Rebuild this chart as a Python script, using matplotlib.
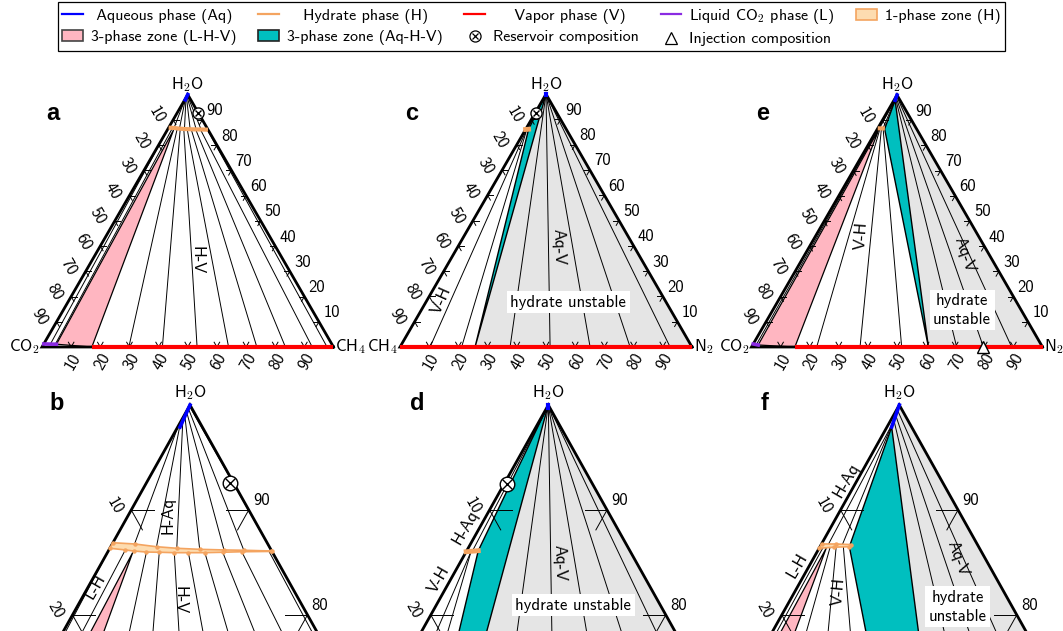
import numpy as np
import matplotlib
matplotlib.use("Agg")
import matplotlib.pyplot as plt
from matplotlib.lines import Line2D
from matplotlib.patches import Polygon, Patch
from matplotlib.transforms import offset_copy

plt.rcParams['font.family'] = ['cmss10', 'DejaVu Sans']
plt.rcParams['mathtext.fontset'] = 'cm'
plt.rcParams['font.size'] = 12
plt.rcParams['axes.unicode_minus'] = False

# ---------------- data (ternary: t = H2O fraction, r = right-vertex fraction) ----------
TICK_VALUES = [10, 20, 30, 40, 50, 60, 70, 80, 90]

# System 1: CO2 (left) - CH4 (right) - H2O (top)   [panels a, b]
S1_AQ_T = [1.000, 0.979]
S1_AQ_R = [0.000, 0.002]
S1_L_T = [0.012, 0.011]
S1_L_R = [0.000, 0.044]
S1_HUP_T = [0.8688, 0.8676, 0.8650, 0.8635, 0.8625, 0.8619, 0.8616, 0.8609]
S1_HUP_R = [0.000, 0.019, 0.039, 0.057, 0.077, 0.098, 0.115, 0.139]
S1_HLO_T = [0.8635, 0.8619, 0.8609, 0.8599, 0.8597, 0.8593, 0.8593, 0.8593, 0.8597, 0.8602, 0.8605]
S1_HLO_R = [0.000, 0.014, 0.0215, 0.033, 0.044, 0.057, 0.069, 0.083, 0.098, 0.114, 0.139]
S1_V_R = [0.171, 1.0]
S1_LHV_T = [0.011, 0.8595, 0.0]
S1_LHV_R = [0.044, 0.0215, 0.171]
S1_HV_H_T = [0.8599, 0.8597, 0.8593, 0.8593, 0.8593, 0.8597, 0.8602, 0.8605]
S1_HV_H_R = [0.033, 0.044, 0.057, 0.069, 0.083, 0.098, 0.114, 0.137]
S1_HV_V_R = [0.298, 0.413, 0.532, 0.640, 0.737, 0.835, 0.927, 0.978]
S1_AQH_AQ_T = [0.980, 0.984, 0.988, 0.991, 0.994, 0.997, 0.999]
S1_AQH_H_T = [0.8676, 0.8650, 0.8635, 0.8625, 0.8619, 0.8616, 0.8609]
S1_AQH_H_R = [0.019, 0.039, 0.057, 0.077, 0.098, 0.115, 0.139]
S1_LH_L_R = [0.023, 0.040]
S1_LH_H_T = [0.8635, 0.8619]
S1_LH_H_R = [0.000, 0.014]
S1_RES = (0.926, 0.071)

# System 2: CH4 (left) - N2 (right) - H2O (top)   [panels c, d]
S2_AQ_T = [1.000, 0.997]
S2_AQ_R = [0.000, 0.0015]
S2_H_T = [0.8602, 0.8612]
S2_H_R = [0.000, 0.0098]
S2_V_R = [0.0, 1.0]
S2_AQHV_T = [1.0, 0.8612, 0.0]
S2_AQHV_R = [0.0, 0.0098, 0.257]
S2_GREY_T = [1.0, 0.0, 0.0]
S2_GREY_R = [0.0, 0.257, 1.0]
S2_AQV_V_R = [0.377, 0.514, 0.651, 0.788, 0.925]
S2_VH_H = (0.8606, 0.004)
S2_VH_V_R = [0.103, 0.211]
S2_HAQ_T = [0.998, 0.8607]
S2_HAQ_R = [0.0005, 0.005]
S2_RES = (0.925, 0.002)

# System 3: CO2 (left) - N2 (right) - H2O (top)   [panels e, f]
S3_AQ_T = [1.000, 0.979]
S3_AQ_R = [0.000, 0.004]
S3_L_T = [0.012, 0.008]
S3_L_R = [0.000, 0.019]
S3_HUP_T = [0.8676, 0.8676, 0.8670]
S3_HUP_R = [0.000, 0.012, 0.025]
S3_HLO_T = [0.8635, 0.8645, 0.8650]
S3_HLO_R = [0.000, 0.012, 0.025]
S3_V_R = [0.149, 1.0]
S3_LHV_T = [0.008, 0.8638, 0.0]
S3_LHV_R = [0.019, 0.006, 0.149]
S3_AQHV_T = [0.979, 0.8650, 0.0]
S3_AQHV_R = [0.004, 0.025, 0.608]
S3_GREY_T = [1.0, 0.979, 0.0, 0.0]
S3_GREY_R = [0.0, 0.004, 0.608, 1.0]
S3_VH_H_T = [0.8640, 0.8645, 0.8648]
S3_VH_H_R = [0.009, 0.014, 0.020]
S3_VH_V_R = [0.224, 0.373, 0.516]
S3_AQV_AQ_T = [0.985, 0.990, 0.995]
S3_AQV_AQ_R = [0.003, 0.002, 0.001]
S3_AQV_V_R = [0.705, 0.797, 0.894]
S3_AQH_AQ_T = [0.983, 0.989]
S3_AQH_AQ_R = [0.003, 0.002]
S3_AQH_H_T = [0.8676, 0.8674]
S3_AQH_H_R = [0.006, 0.018]
S3_LH_T = [0.010, 0.8637]
S3_LH_R = [0.012, 0.003]
S3_INJ = (0.0, 0.797)

# region labels: (text, t, r, rotation, boxed)
LAB_A = [('H-V', 0.345, 0.358, -90, False)]
LAB_B = [('H-Aq', 0.8952, 0.034, 90, False), ('H-V', 0.8142, 0.084, -90, False),
         ('L-H', 0.8269, 0.006, 60, False)]
LAB_C = [('Aq-V', 0.397, 0.344, -88, False), ('V-H', 0.186, 0.050, 66, False),
         ('hydrate unstable', 0.177, 0.488, 0, True)]
LAB_D = [('Aq-V', 0.8492, 0.085, -88, False), ('H-Aq', 0.884, -0.013, 60, False),
         ('V-H', 0.8333, -0.010, 60, False), ('hydrate unstable', 0.8094, 0.1166, 0, True)]
LAB_E = [('V-H', 0.444, 0.157, 86, False), ('Aq-V', 0.365, 0.551, -71, False),
         ('hydrate\nunstable', 0.147, 0.650, 0, True)]
LAB_F = [('H-Aq', 0.9285, -0.009, 60, False), ('L-H', 0.8476, -0.011, 60, False),
         ('V-H', 0.8221, 0.037, 85, False), ('Aq-V', 0.8539, 0.123, -70, False),
         ('hydrate\nunstable', 0.8078, 0.146, 0, True)]

# colours
C_AQ = '#0000ff'
C_H = '#f4a460'
C_HFILL = '#fddcb0'
C_V = '#ff0000'
C_L = '#8a2be2'
C_PINK = '#ffb6c1'
C_TEAL = '#00bfbf'
C_GREY = '#e5e5e5'

W, H = 1063, 631
fig = plt.figure(figsize=(W / 100, H / 100), dpi=100)
SQ = np.sqrt(3) / 2


def xy(t, r):
    t = np.atleast_1d(np.asarray(t, float))
    r = np.atleast_1d(np.asarray(r, float))
    return r + t / 2.0, t * SQ


def make_ax(rect, X0, Yb, Sx, Sy):
    L, T, R, B = rect
    ax = fig.add_axes([L / W, 1 - B / H, (R - L) / W, (B - T) / H])
    ax.set_xlim((L - X0) / Sx, (R - X0) / Sx)
    ax.set_ylim((Yb - B) / Sy, (Yb - T) / Sy)
    ax.axis('off')
    return ax


def line(ax, t, r, **kw):
    x, y = xy(t, r)
    ax.plot(x, y, **kw)


def poly(ax, t, r, **kw):
    x, y = xy(t, r)
    ax.add_patch(Polygon(np.column_stack([x, y]), closed=True, **kw))


def tie(ax, t1, r1, t2, r2):
    for a, b, c, d in zip(t1, r1, t2, r2):
        line(ax, [a, c], [b, d], color='k', lw=0.7, zorder=3)


def frame(ax, lname, rname, tmin, zoom):
    line(ax, [0, 1, 0, 0], [1, 0, 0, 1], color='k', lw=2, zorder=4,
         solid_joinstyle='miter')
    Lt = 0.019
    for v in TICK_VALUES:
        f = v / 100.0
        # left edge
        x0, y0 = xy(1 - f, 0)
        ax.plot([x0[0], x0[0] + Lt], [y0[0], y0[0]], color='k', lw=0.7, zorder=3)
        ax.plot([x0[0], x0[0] + Lt * 0.5], [y0[0], y0[0] - Lt * SQ], color='k', lw=0.7, zorder=3)
        if 1 - f >= tmin:
            ax.text(x0[0], y0[0], str(v), rotation=-60, ha='center', va='center',
                    rotation_mode='anchor',
                    transform=offset_copy(ax.transData, fig, x=-17, y=4.5, units='dots'))
        # right edge
        x0, y0 = xy(f, 1 - f)
        ax.plot([x0[0], x0[0] - Lt], [y0[0], y0[0]], color='k', lw=0.7, zorder=3)
        ax.plot([x0[0], x0[0] - Lt * 0.5], [y0[0], y0[0] - Lt * SQ], color='k', lw=0.7, zorder=3)
        if f >= tmin:
            ax.text(x0[0], y0[0], str(v), ha='center', va='center',
                    transform=offset_copy(ax.transData, fig, x=12.5, y=9, units='dots'))
        # bottom edge
        x0, y0 = xy(0, f)
        ax.plot([x0[0], x0[0] + Lt * 0.5], [y0[0], y0[0] + Lt * SQ], color='k', lw=0.7, zorder=3)
        ax.plot([x0[0], x0[0] - Lt * 0.5], [y0[0], y0[0] + Lt * SQ], color='k', lw=0.7, zorder=3)
        if tmin <= 0:
            ax.text(x0[0], y0[0], str(v), rotation=60, ha='center', va='center',
                    rotation_mode='anchor',
                    transform=offset_copy(ax.transData, fig, x=2, y=-15, units='dots'))
    xa, ya = xy(1, 0)
    ax.text(xa[0], ya[0], 'H$_2$O', ha='center', va='center',
            transform=offset_copy(ax.transData, fig, x=0, y=12 if zoom else 10, units='dots'))
    if not zoom:
        xl, yl = xy(0, 0)
        ax.text(xl[0], yl[0], lname, ha='right', va='center',
                transform=offset_copy(ax.transData, fig, x=-2, y=0, units='dots'))
        xr, yr = xy(0, 1)
        ax.text(xr[0], yr[0], rname, ha='left', va='center',
                transform=offset_copy(ax.transData, fig, x=2, y=0, units='dots'))


def labels(ax, labs):
    for txt, t, r, rot, boxed in labs:
        x, y = xy(t, r)
        kw = dict(rotation=rot, ha='center', va='center', rotation_mode='anchor', zorder=9)
        if boxed:
            kw['bbox'] = dict(facecolor='white', edgecolor='none', pad=2.5)
            kw['linespacing'] = 1.3
        ax.text(x[0], y[0], txt, **kw)


def reservoir(ax, pt, ms):
    x, y = xy(*pt)
    ax.plot(x, y, marker='o', ms=ms, mfc='white', mec='k', mew=1.0, zorder=8)
    ax.plot(x, y, marker='x', ms=ms * 0.62, color='k', mew=1.0, zorder=9)


def hyd_band(ax, tu, ru, tl, rl, zoom):
    if zoom:
        t = list(tu) + list(tl)[::-1]
        r = list(ru) + list(rl)[::-1]
        poly(ax, t, r, facecolor=C_HFILL, edgecolor=C_H, lw=1.2, zorder=6)
        line(ax, tu, ru, ls='none', marker='o', ms=2.2, color=C_H, zorder=6)
        line(ax, tl, rl, ls='none', marker='o', ms=2.2, color=C_H, zorder=6)
    else:
        line(ax, tu, ru, color=C_H, lw=3, zorder=6, solid_capstyle='butt')


def system1(ax, zoom):
    poly(ax, S1_LHV_T, S1_LHV_R, facecolor=C_PINK, edgecolor='k', lw=0.9, zorder=2)
    tie(ax, S1_HV_H_T, S1_HV_H_R, [0] * len(S1_HV_V_R), S1_HV_V_R)
    tie(ax, S1_AQH_AQ_T, [0.0] * len(S1_AQH_AQ_T), S1_AQH_H_T, S1_AQH_H_R)
    tie(ax, [S1_L_T[0]] * 2, S1_LH_L_R, S1_LH_H_T, S1_LH_H_R)
    frame(ax, 'CO$_2$', 'CH$_4$', 0.75 if zoom else 0, zoom)
    line(ax, [0, 0], S1_V_R, color=C_V, lw=3, zorder=5, solid_capstyle='butt')
    line(ax, S1_AQ_T, S1_AQ_R, color=C_AQ, lw=2.6, zorder=5)
    line(ax, S1_L_T, S1_L_R, color=C_L, lw=2.6, zorder=5)
    hyd_band(ax, S1_HUP_T, S1_HUP_R, S1_HLO_T, S1_HLO_R, zoom)
    reservoir(ax, S1_RES, 10.5 if zoom else 8)


def system2(ax, zoom):
    poly(ax, S2_GREY_T, S2_GREY_R, facecolor=C_GREY, edgecolor='none', zorder=1)
    poly(ax, S2_AQHV_T, S2_AQHV_R, facecolor=C_TEAL, edgecolor='k', lw=1.0, zorder=2)
    tie(ax, [1.0] * len(S2_AQV_V_R), [0.0] * len(S2_AQV_V_R), [0] * len(S2_AQV_V_R), S2_AQV_V_R)
    tie(ax, [S2_VH_H[0]] * 2, [S2_VH_H[1]] * 2, [0, 0], S2_VH_V_R)
    tie(ax, [S2_HAQ_T[0]], [S2_HAQ_R[0]], [S2_HAQ_T[1]], [S2_HAQ_R[1]])
    frame(ax, 'CH$_4$', 'N$_2$', 0.75 if zoom else 0, zoom)
    line(ax, [0, 0], S2_V_R, color=C_V, lw=3, zorder=5, solid_capstyle='butt')
    line(ax, S2_AQ_T, S2_AQ_R, color=C_AQ, lw=3, zorder=5)
    line(ax, S2_H_T, S2_H_R, color=C_H, lw=3.5, zorder=6)
    reservoir(ax, S2_RES, 10.5 if zoom else 8)


def system3(ax, zoom):
    poly(ax, S3_GREY_T, S3_GREY_R, facecolor=C_GREY, edgecolor='none', zorder=1)
    poly(ax, S3_AQHV_T, S3_AQHV_R, facecolor=C_TEAL, edgecolor='k', lw=1.0, zorder=2)
    poly(ax, S3_LHV_T, S3_LHV_R, facecolor=C_PINK, edgecolor='k', lw=0.9, zorder=2)
    tie(ax, S3_VH_H_T, S3_VH_H_R, [0] * 3, S3_VH_V_R)
    tie(ax, S3_AQV_AQ_T, S3_AQV_AQ_R, [0] * 3, S3_AQV_V_R)
    tie(ax, S3_AQH_AQ_T, S3_AQH_AQ_R, S3_AQH_H_T, S3_AQH_H_R)
    tie(ax, [S3_LH_T[0]], [S3_LH_R[0]], [S3_LH_T[1]], [S3_LH_R[1]])
    frame(ax, 'CO$_2$', 'N$_2$', 0.75 if zoom else 0, zoom)
    line(ax, [0, 0], S3_V_R, color=C_V, lw=3, zorder=5, solid_capstyle='butt')
    line(ax, S3_AQ_T, S3_AQ_R, color=C_AQ, lw=2.6, zorder=5)
    line(ax, S3_L_T, S3_L_R, color=C_L, lw=2.6, zorder=5)
    hyd_band(ax, S3_HUP_T, S3_HUP_R, S3_HLO_T, S3_HLO_R, zoom)
    x, y = xy(*S3_INJ)
    ax.plot(x, y, marker='^', ms=10.5 if zoom else 9, mfc='white', mec='k', mew=1.0,
            zorder=8, clip_on=False)


# ---- panels ----
BOT_SX, BOT_SY = 1175.0, 1212.0
ax_a = make_ax((0, 60, 355, 372), 42.0, 347.0, 291.5, 291.5)
ax_c = make_ax((355, 60, 708, 372), 400.0, 347.0, 292.0, 292.0)
ax_e = make_ax((708, 60, 1063, 372), 751.5, 347.0, 291.0, 291.0)
yb_bot = 405.0 + BOT_SY * SQ
ax_b = make_ax((0, 372, 355, 631), 190.0 - BOT_SX / 2, yb_bot, BOT_SX, BOT_SY)
ax_d = make_ax((355, 372, 708, 631), 548.3 - BOT_SX / 2, yb_bot, BOT_SX, BOT_SY)
ax_f = make_ax((708, 372, 1063, 631), 899.3 - BOT_SX / 2, yb_bot, BOT_SX, BOT_SY)

system1(ax_a, False); labels(ax_a, LAB_A)
system1(ax_b, True); labels(ax_b, LAB_B)
system2(ax_c, False); labels(ax_c, LAB_C)
system2(ax_d, True); labels(ax_d, LAB_D)
system3(ax_e, False); labels(ax_e, LAB_E)
system3(ax_f, True); labels(ax_f, LAB_F)

for letter, px, py in [('a', 53, 113), ('c', 412, 113), ('e', 763, 113),
                       ('b', 57, 403), ('d', 417, 403), ('f', 765, 403)]:
    fig.text(px / W, 1 - py / H, letter, fontsize=17, fontweight='bold',
             family='Liberation Sans', ha='center', va='center')

# ---- legend ----
h_aq = Line2D([], [], color=C_AQ, lw=1.6)
h_h = Line2D([], [], color=C_H, lw=1.6)
h_v = Line2D([], [], color=C_V, lw=1.6)
h_l = Line2D([], [], color=C_L, lw=1.6)
h_1p = Patch(facecolor=C_HFILL, edgecolor=C_H, lw=1.2)
h_lhv = Patch(facecolor=C_PINK, edgecolor='#444444', lw=1.2)
h_aqhv = Patch(facecolor=C_TEAL, edgecolor='#222222', lw=1.2)
h_res = (Line2D([], [], ls='none', marker='o', ms=8, mfc='white', mec='k', mew=0.9),
         Line2D([], [], ls='none', marker='x', ms=5, color='k', mew=0.9))
h_inj = Line2D([], [], ls='none', marker='^', ms=9, mfc='white', mec='k', mew=0.9)

handles = [h_aq, h_lhv, h_h, h_aqhv, h_v, h_res, h_l, h_inj, h_1p]
labs = [' Aqueous phase (Aq)', '3-phase zone (L-H-V)', '   Hydrate phase (H)',
        '3-phase zone (Aq-H-V)', '    Vapor phase (V)', 'Reservoir composition',
        'Liquid CO$_2$ phase (L)', 'Injection composition', '1-phase zone (H)']
leg = fig.legend(handles, labs, ncol=5, loc='upper center', fontsize=11.5,
                 bbox_to_anchor=(531.5 / W, 1 - 2.0 / H), frameon=True, fancybox=False,
                 edgecolor='black', framealpha=1, handlelength=1.3, handletextpad=0.5,
                 columnspacing=1.35, labelspacing=0.4, borderpad=0.3, borderaxespad=0)
leg.get_frame().set_linewidth(0.9)

fig.savefig('out.png', dpi=100)
